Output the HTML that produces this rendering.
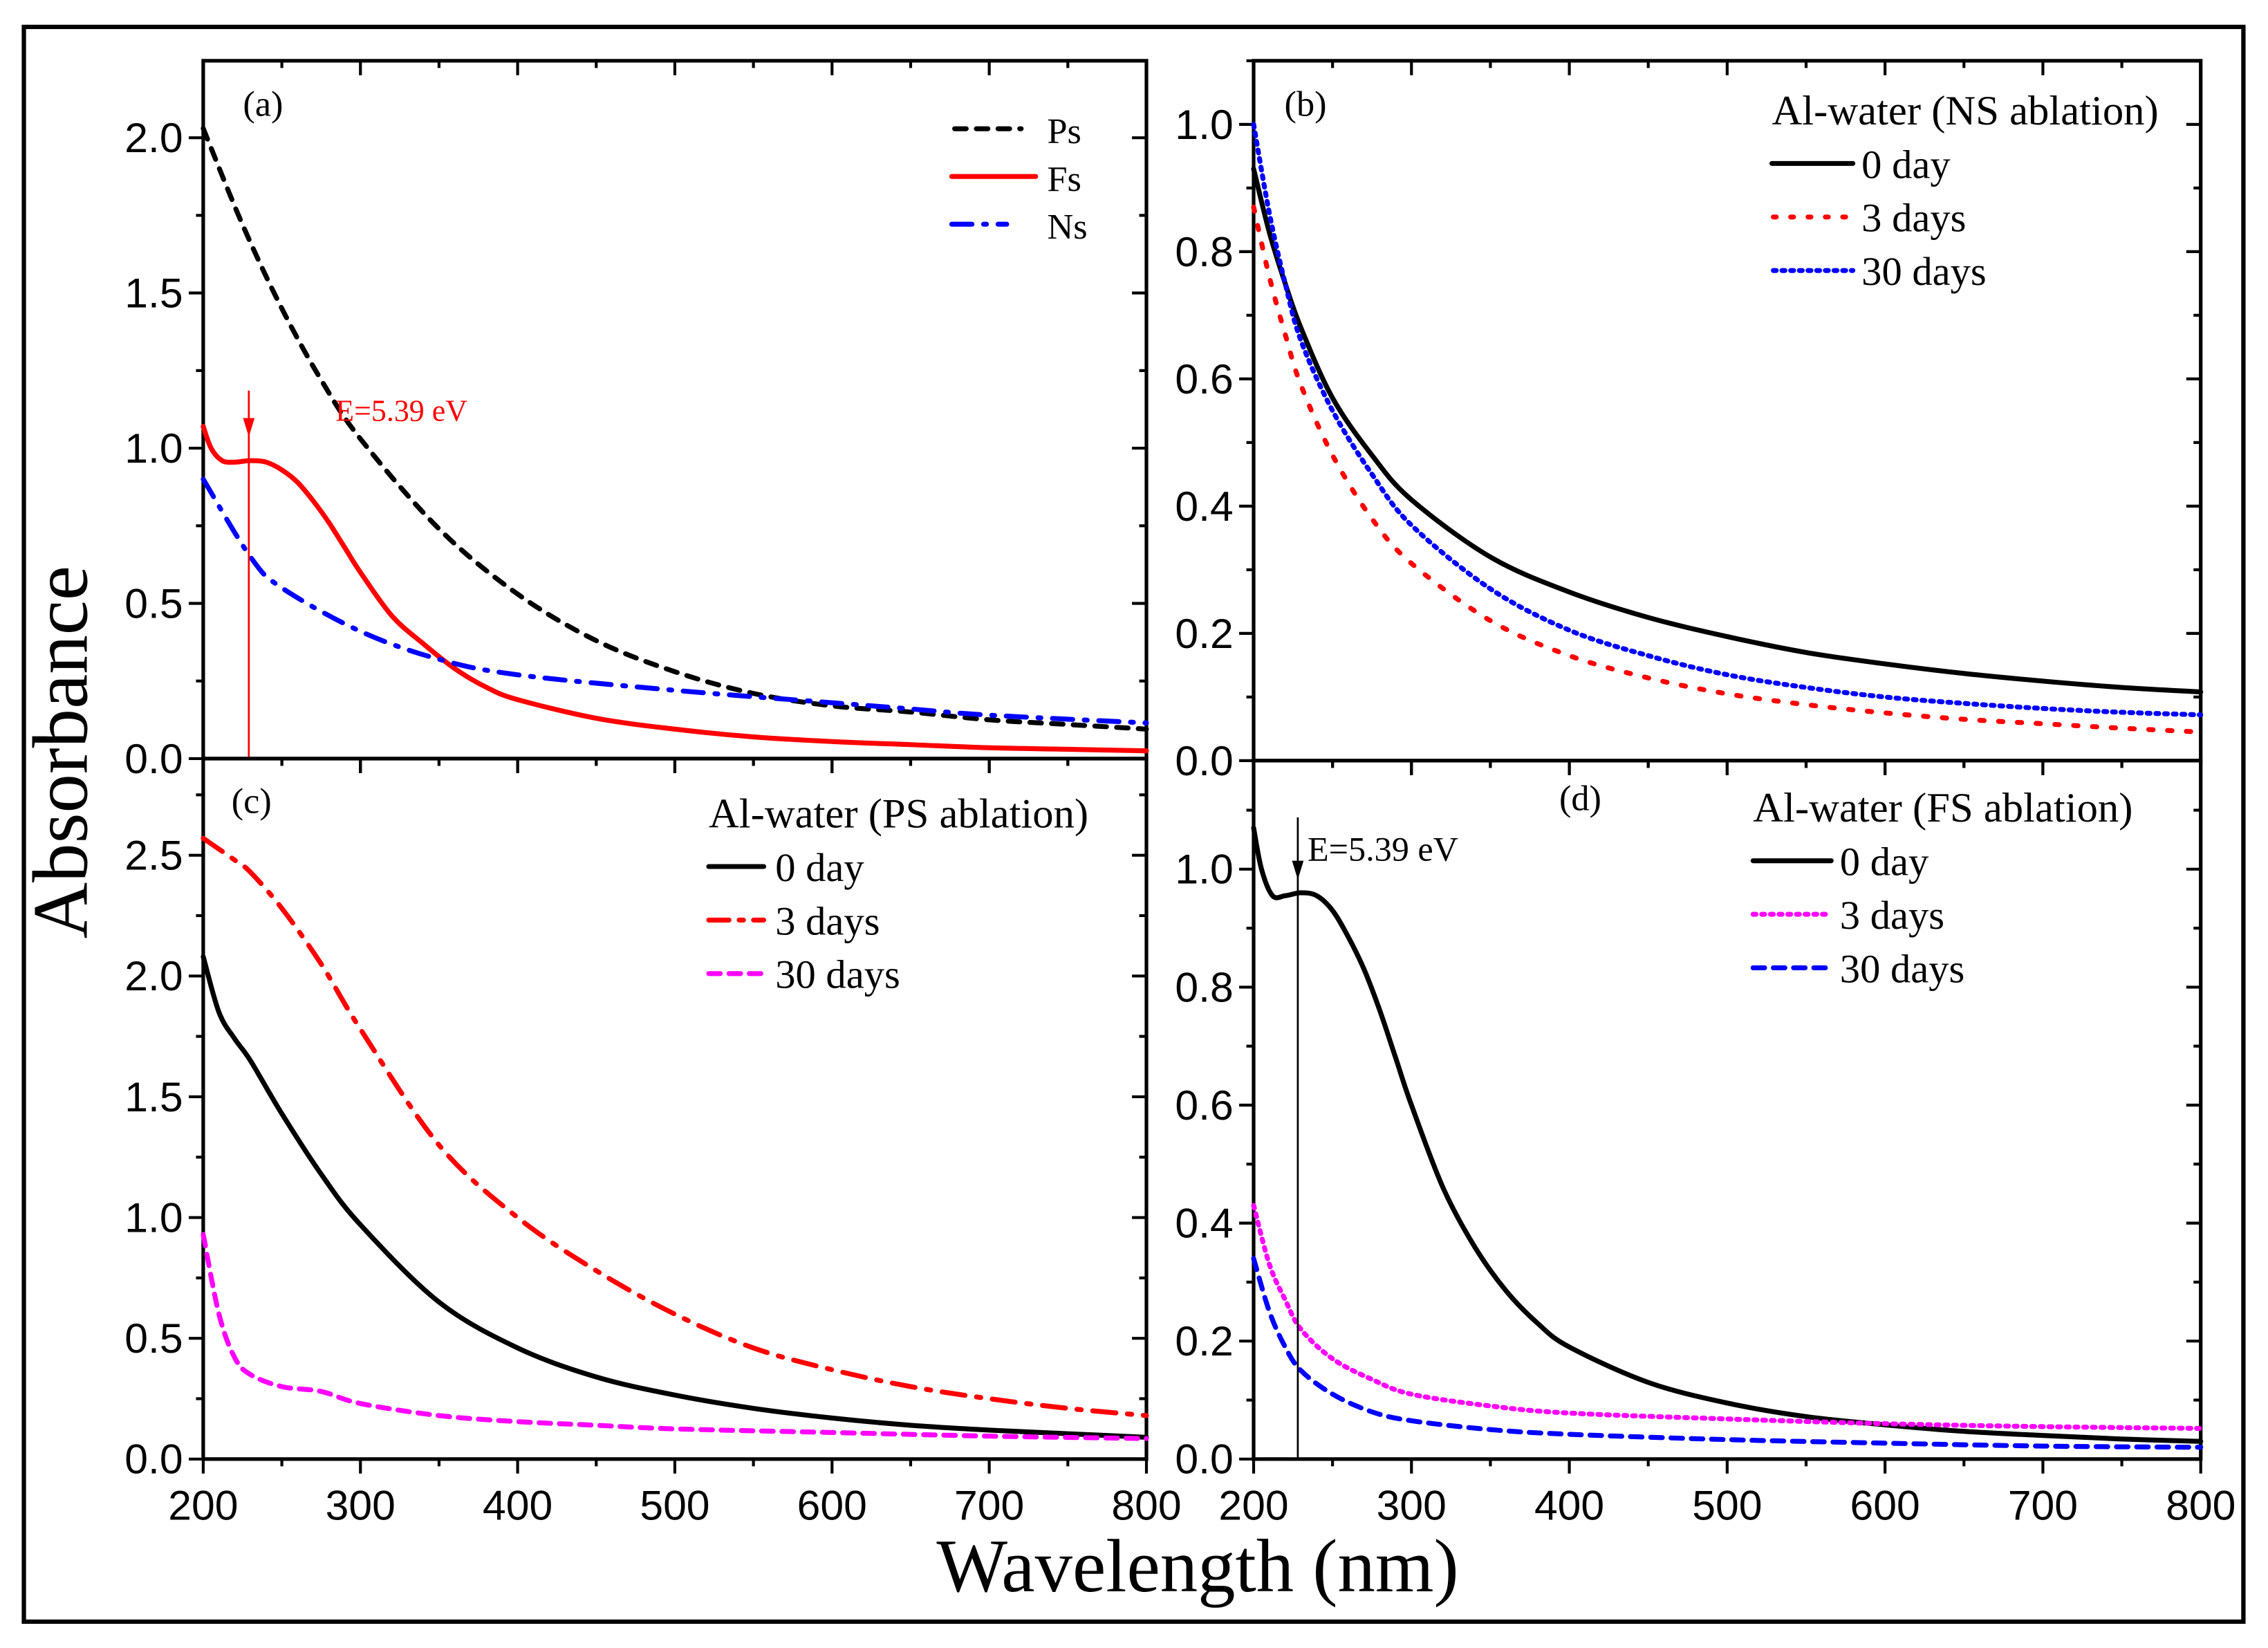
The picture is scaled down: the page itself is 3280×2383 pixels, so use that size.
<!DOCTYPE html>
<html><head><meta charset="utf-8"><style>
html,body{margin:0;padding:0;background:#fff;}
svg{display:block;}
.tk{font-family:"Liberation Sans",sans-serif;font-size:29px;fill:#000;}
.sf{font-family:"Liberation Serif",serif;}
</style></head><body>
<svg id="fig" width="3280" height="2383" viewBox="0 0 1568 1139.2" xmlns="http://www.w3.org/2000/svg">
<rect x="16.5" y="18.6" width="1534.5" height="1102.4" fill="none" stroke="#000" stroke-width="3"/>
<g id="plots"></g>
<text class="sf" font-size="54" text-anchor="middle" transform="translate(60,520) rotate(-90)">Absorbance</text>
<text class="sf" font-size="52" text-anchor="middle" x="828" y="1100">Wavelength (nm)</text>
</svg>
<script>
// ---- data (wavelength nm, absorbance) ----
const aPsX=[200,225,250,275,300,350,400,450,500,550,600,650,700,750,800];
const aPsY=[2.03,1.72,1.45,1.22,1.03,0.74,0.53,0.38,0.28,0.21,0.17,0.15,0.125,0.11,0.095];
const aFsX=[200,205,212,220,230,240,250,260,270,280,290,300,320,340,360,380,400,450,500,550,600,650,700,750,800];
const aFsY=[1.07,1.0,0.96,0.955,0.96,0.955,0.93,0.89,0.83,0.76,0.68,0.6,0.46,0.37,0.29,0.23,0.19,0.13,0.095,0.07,0.055,0.045,0.035,0.03,0.025];
const aNsX=[200,230,250,300,350,400,500,600,650,700,800];
const aNsY=[0.9,0.65,0.55,0.41,0.32,0.27,0.22,0.18,0.16,0.14,0.115];
const bX=[200,210,220,230,250,275,300,350,400,450,500,550,600,650,700,750,800];
const b0Y=[0.93,0.83,0.75,0.68,0.57,0.48,0.41,0.32,0.265,0.225,0.195,0.17,0.152,0.137,0.125,0.115,0.108];
const b3Y=[0.87,0.76,0.67,0.59,0.48,0.38,0.31,0.22,0.165,0.13,0.105,0.088,0.075,0.065,0.058,0.051,0.045];
const b30Y=[1.0,0.86,0.75,0.66,0.55,0.45,0.37,0.27,0.205,0.165,0.135,0.115,0.1,0.09,0.082,0.076,0.072];
const c0X=[200,210,220,230,250,275,300,350,400,450,500,550,600,650,700,750,800];
const c0Y=[2.08,1.85,1.74,1.65,1.43,1.18,0.97,0.65,0.46,0.34,0.265,0.21,0.17,0.14,0.12,0.105,0.09];
const c3X=[200,220,230,250,275,300,350,400,450,500,550,600,650,700,750,800];
const c3Y=[2.57,2.48,2.43,2.28,2.05,1.78,1.3,1.0,0.78,0.6,0.46,0.37,0.3,0.25,0.21,0.18];
const c30X=[200,210,220,230,250,275,300,350,400,450,500,600,700,800];
const c30Y=[0.93,0.6,0.42,0.35,0.3,0.28,0.23,0.18,0.155,0.14,0.125,0.11,0.095,0.085];
const d0X=[200,205,212,220,230,240,250,260,270,280,290,300,320,340,360,380,400,450,500,550,600,650,700,750,800];
const d0Y=[1.07,1.0,0.955,0.955,0.96,0.955,0.93,0.885,0.83,0.76,0.68,0.6,0.46,0.36,0.285,0.23,0.19,0.13,0.095,0.072,0.058,0.047,0.04,0.034,0.03];
const d3X=[200,210,220,230,250,275,300,350,400,500,600,700,800];
const d3Y=[0.43,0.33,0.27,0.22,0.17,0.135,0.11,0.09,0.078,0.068,0.06,0.055,0.052];
const d30X=[200,210,220,230,250,275,300,350,400,500,600,700,800];
const d30Y=[0.34,0.25,0.19,0.15,0.11,0.08,0.065,0.05,0.042,0.033,0.027,0.022,0.02];
const xTicks=[200,300,400,500,600,700,800];
const aTicks=[0,0.5,1.0,1.5,2.0];
const bTicks=[0,0.2,0.4,0.6,0.8,1.0];
const cTicks=[0,0.5,1.0,1.5,2.0,2.5];
const dTicks=[0,0.2,0.4,0.6,0.8,1.0];

const NS="http://www.w3.org/2000/svg";
const root=document.getElementById('plots');
function mk(tag,attrs,parent){const e=document.createElementNS(NS,tag);for(const k in attrs)e.setAttribute(k,attrs[k]);(parent||root).appendChild(e);return e;}

function panel(p){
  const g=mk('g',{});
  
  
  const sx=v=>p.x0+(v-200)/600*(p.x1-p.x0);
  const sy=v=>p.y1-(v/p.ymax)*(p.y1-p.y0);
  p.sx=sx;p.sy=sy;
  const fr=mk('rect',{x:p.x0,y:p.y0,width:p.x1-p.x0,height:p.y1-p.y0,fill:'none',stroke:'#000','stroke-width':2.5},g);
  
  
  for(let v=200;v<=800;v+=50){
    const maj=v%100===0, L=maj?10:5;
    mk('line',{x1:sx(v),x2:sx(v),y1:p.y1,y2:p.y1+L,stroke:'#000','stroke-width':2},g);
    mk('line',{x1:sx(v),x2:sx(v),y1:p.y0,y2:p.y0+L,stroke:'#000','stroke-width':2},g);
  }
  if(p.xlabels){xTicks.forEach(v=>{const t=mk('text',{x:sx(v),y:p.y1+42,'text-anchor':'middle',class:'tk'},g);t.textContent=v;
    
    });}
  const st=p.ticks[1]-p.ticks[0];
  for(let v=0;v<=p.ymax+1e-9;v+=st/2){
    const r=Math.round(v/st*2), maj=r%2===0, L=maj?10:5;
    mk('line',{x1:p.x0-L,x2:p.x0,y1:sy(v),y2:sy(v),stroke:'#000','stroke-width':2},g);
    mk('line',{x1:p.x1-L,x2:p.x1,y1:sy(v),y2:sy(v),stroke:'#000','stroke-width':2},g);
  }
  p.ticks.forEach(v=>{const t=mk('text',{x:p.x0-14,y:sy(v)+10,'text-anchor':'end',class:'tk'},g);t.textContent=v.toFixed(1);
    
    });
  return g;
}
function path(p,g,X,Y,color,dash,name){
  const pts=X.map((x,i)=>[p.sx(x),p.sy(Y[i])]);
  let d='M'+pts[0][0]+','+pts[0][1];
  for(let i=0;i<pts.length-1;i++){
    const p0=pts[Math.max(0,i-1)],p1=pts[i],p2=pts[i+1],p3=pts[Math.min(pts.length-1,i+2)];
    const c1=[p1[0]+(p2[0]-p0[0])/6,p1[1]+(p2[1]-p0[1])/6],c2=[p2[0]-(p3[0]-p1[0])/6,p2[1]-(p3[1]-p1[1])/6];
    d+=`C${c1[0]},${c1[1]} ${c2[0]},${c2[1]} ${p2[0]},${p2[1]}`;
  }
  const e=mk('path',{d:d,fill:'none',stroke:color,'stroke-width':3.4,'stroke-linecap':'round','stroke-dasharray':dash||'none'},g);
  
  
}
function legend(g,x,y,title,items){
  let yy=y;
  if(title){const t=mk('text',{x:x,y:yy,class:'sf','font-size':29,fill:'#000'},g);t.textContent=title;
    
    yy+=27;}
  items.forEach(it=>{
    const ln=mk('line',{x1:x+it.lx0,x2:x+it.lx1,y1:yy,y2:yy,stroke:it.c,'stroke-width':3.4,'stroke-linecap':'round','stroke-dasharray':it.d||'none'},g);
    
    
    const t=mk('text',{x:x+it.tx,y:yy+10,class:'sf','font-size':it.fs||28,fill:'#000'},g);t.textContent=it.t;
    
    
    yy+=it.dy||37;
  });
}
function lbl(g,x,y,s,c,fs,name){const t=mk('text',{x:x,y:y,class:'sf','font-size':fs||25,fill:c||'#000'},g);t.textContent=s;
  
  }

// panel a
const A={id:'a',x0:140.5,x1:792.6,y0:42,y1:524.4,ymax:2.248,ticks:aTicks,xlabels:false};
const ga=panel(A);
path(A,ga,aPsX,aPsY,'#000','8 7','series-ps');
path(A,ga,aFsX,aFsY,'#f00',null,'series-fs');
path(A,ga,aNsX,aNsY,'#00f','14 8 2 8','series-ns');
mk('line',{x1:A.sx(229),x2:A.sx(229),y1:270,y2:A.y1,stroke:'#f00','stroke-width':1.3},ga);
mk('path',{d:`M${A.sx(229)-4},289 L${A.sx(229)+4},289 L${A.sx(229)},302 Z`,fill:'#f00'},ga);
lbl(ga,232,291,'E=5.39 eV','#f00',21,'energy-annotation-a');
lbl(ga,168,80,'(a)','#000',25,'panel-label-a');
legend(ga,658,89,null,[{t:'Ps',c:'#000',d:'8 7',lx0:2,lx1:48,tx:66,dy:33,fs:25},{t:'Fs',c:'#f00',lx0:0,lx1:58,tx:66,dy:33,fs:25},{t:'Ns',c:'#00f',d:'14 8 2 8',lx0:0,lx1:38,tx:66,fs:25}]);

// panel b
const B={id:'b',x0:866.7,x1:1521.5,y0:42,y1:525.8,ymax:1.1,ticks:bTicks,xlabels:false};
const gb=panel(B);
path(B,gb,bX,b0Y,'#000',null,'series-b-0day');
path(B,gb,bX,b3Y,'#f00','3 10','series-b-3days');
path(B,gb,bX,b30Y,'#00f','2 4','series-b-30days');
lbl(gb,888,80,'(b)','#000',25,'panel-label-b');
legend(gb,1225,86,'Al-water (NS ablation)',[{t:'0 day',c:'#000',lx0:0,lx1:56,tx:62},{t:'3 days',c:'#f00',d:'2 10',lx0:1,lx1:52,tx:62},{t:'30 days',c:'#00f',d:'2 4',lx0:1,lx1:56,tx:62}]);

// panel c
const C={id:'c',x0:140.5,x1:792.6,y0:524.4,y1:1008.6,ymax:2.9,ticks:cTicks,xlabels:true};
const gc=panel(C);
path(C,gc,c0X,c0Y,'#000',null,'series-c-0day');
path(C,gc,c3X,c3Y,'#f00','16 8 3 8','series-c-3days');
path(C,gc,c30X,c30Y,'#f0f','8 6','series-c-30days');
lbl(gc,160,562,'(c)','#000',25,'panel-label-c');
legend(gc,490,572,'Al-water (PS ablation)',[{t:'0 day',c:'#000',lx0:0,lx1:38,tx:46},{t:'3 days',c:'#f00',d:'14 7 3 7',lx0:0,lx1:38,tx:46},{t:'30 days',c:'#f0f',d:'8 6',lx0:0,lx1:38,tx:46}]);

// panel d
const D={id:'d',x0:866.7,x1:1521.5,y0:525.8,y1:1008.6,ymax:1.184,ticks:dTicks,xlabels:true};
const gd=panel(D);
path(D,gd,d0X,d0Y,'#000',null,'series-d-0day');
path(D,gd,d3X,d3Y,'#f0f','2 4','series-d-3days');
path(D,gd,d30X,d30Y,'#00f','8 6','series-d-30days');
mk('line',{x1:D.sx(228),x2:D.sx(228),y1:565,y2:D.y1,stroke:'#000','stroke-width':1.3},gd);
mk('path',{d:`M${D.sx(228)-4},595 L${D.sx(228)+4},595 L${D.sx(228)},608 Z`,fill:'#000'},gd);
lbl(gd,904,595,'E=5.39 eV','#000',24,'energy-annotation-d');
lbl(gd,1078,560,'(d)','#000',25,'panel-label-d');
legend(gd,1212,568,'Al-water (FS ablation)',[{t:'0 day',c:'#000',lx0:0,lx1:54,tx:60},{t:'3 days',c:'#f0f',d:'2 4',lx0:0,lx1:54,tx:60},{t:'30 days',c:'#00f',d:'8 6',lx0:0,lx1:54,tx:60}]);
</script>
</body></html>
